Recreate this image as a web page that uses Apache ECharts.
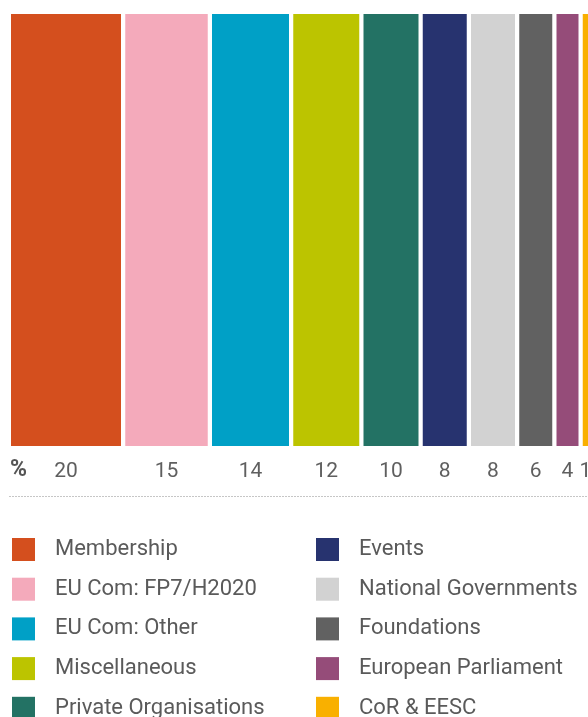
<!DOCTYPE html>
<html><head><meta charset="utf-8">
<script src="https://cdn.jsdelivr.net/npm/echarts@6/dist/echarts.min.js"></script>
<style>html,body{margin:0;padding:0;background:#fff}#c{width:588px;height:717px}</style>
</head><body><div id="c"></div>
<script>
const categories = ["Membership","EU Com: FP7/H2020","EU Com: Other","Miscellaneous","Private Organisations","Events","National Governments","Foundations","European Parliament","CoR & EESC"];
const values = [20,15,14,12,10,8,8,6,4,1];
const colors = ["#d44f1e","#f4aabb","#00a0c6","#bcc400","#237264","#27336f","#d2d2d2","#616161","#954c79","#f9b000"];
const GAP = 4.25;
const FONT = "Roboto, 'Noto Sans', sans-serif";

const starts = [];
values.reduce((acc, v, i) => { starts[i] = acc; return acc + v; }, 0);

const series = categories.map((name, i) => ({
  type: 'custom',
  name: name,
  coordinateSystem: 'cartesian2d',
  itemStyle: { color: colors[i] },
  clip: false,
  encode: { x: [0, 1], y: 2 },
  data: [[starts[i], starts[i] + values[i], 1, values[i], i]],
  renderItem: function (params, api) {
    const s = api.value(0), e = api.value(1), idx = api.value(4);
    const p0 = api.coord([s, 1]);
    const p1 = api.coord([e, 0]);
    const x0 = p0[0] + idx * GAP;
    const w = p1[0] - p0[0];
    return {
      type: 'group',
      children: [
        { type: 'rect', shape: { x: x0, y: p0[1], width: w, height: p1[1] - p0[1] },
          style: { fill: api.visual('color') } },
        { type: 'text', x: x0 + w / 2, y: p1[1] + 26,
          style: { text: String(api.value(3)), fill: '#5f5f5f', font: '21px ' + FONT, align: 'center', verticalAlign: 'middle' } }
      ]
    };
  }
}));

const chart = echarts.init(document.getElementById('c'), null, { renderer: 'canvas' });
const legendBase = {
  orient: 'vertical', top: 536, height: 400, padding: 0, icon: 'rect', itemWidth: 23, itemHeight: 23, itemGap: 12.7,
  selectedMode: false,
  textStyle: { fontSize: 22, fontFamily: FONT, color: '#5a5a5a', padding: [4, 0, 0, 15], lineHeight: 23 }
};
chart.setOption({
  animation: false,
  grid: { left: 11, top: 14, width: 550, height: 432 },
  xAxis: { type: 'value', min: 0, max: 100, show: false },
  yAxis: { type: 'value', min: 0, max: 1, show: false },
  legend: [
    Object.assign({}, legendBase, { left: 12, data: categories.slice(0, 5) }),
    Object.assign({}, legendBase, { left: 316, data: categories.slice(5) })
  ],
  graphic: [
    { type: 'text', left: 10, top: 459, style: { text: '%', fill: '#555555', font: 'bold 23px ' + FONT } },
    { type: 'line', shape: { x1: 9, y1: 496.5, x2: 588, y2: 496.5 }, style: { stroke: '#c6c6c6', lineWidth: 1, lineDash: [2, 1] } }
  ],
  series: series
});
</script></body></html>
